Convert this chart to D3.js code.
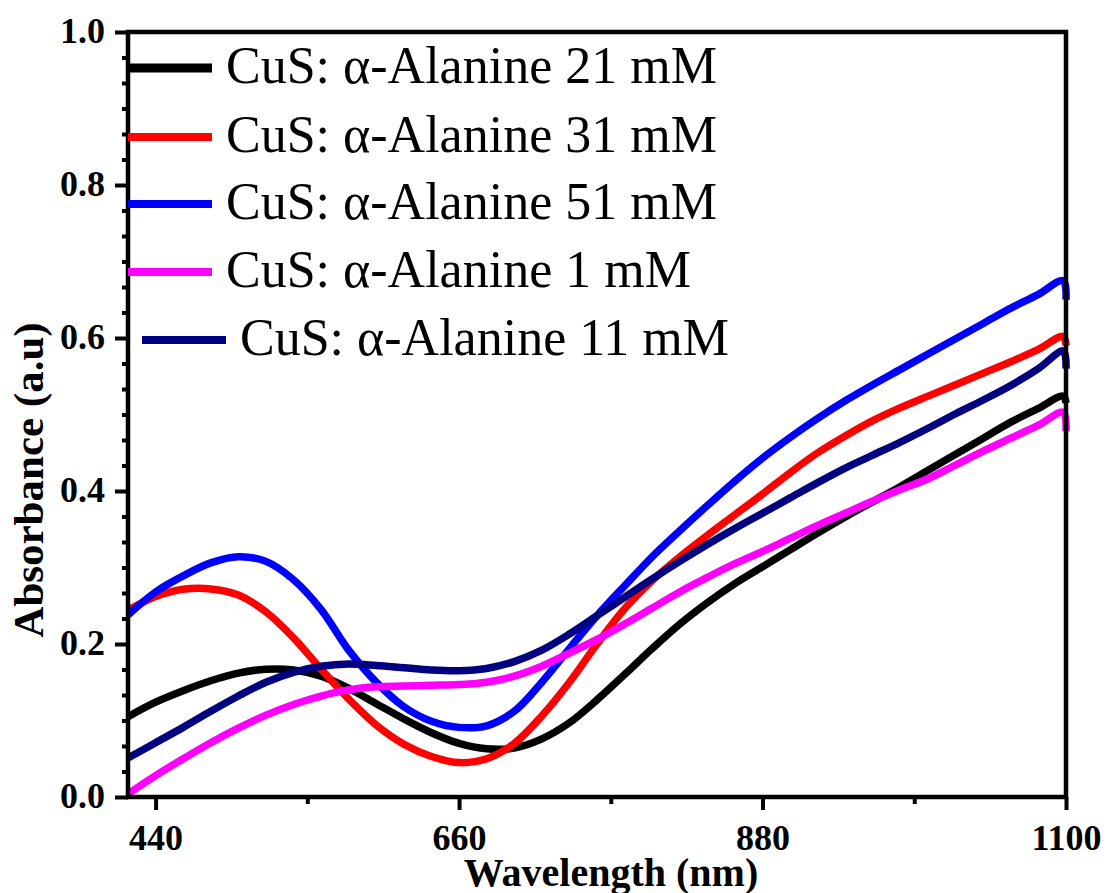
<!DOCTYPE html>
<html>
<head>
<meta charset="utf-8">
<script src="https://cdn.jsdelivr.net/npm/d3@7"></script>
<style>
  body { margin: 0; background: #fff; }
  svg { display: block; }
</style>
</head>
<body>
<svg id="chart" width="1108" height="893"></svg>
<script>
// UV-Vis-NIR absorbance of CuS prepared with different α-Alanine concentrations
const wavelength = [420,440,460,480,500,520,540,560,580,600,620,640,660,680,700,720,740,760,780,800,
                    820,840,860,880,900,920,940,960,980,1000,1020,1040,1060,1080,1098,1100];

const ala21 = [0.105,0.124,0.139,0.152,0.162,0.167,0.166,0.158,0.142,0.122,0.102,0.084,0.070,0.063,0.064,0.076,0.097,0.127,0.160,0.194,
               0.226,0.254,0.279,0.301,0.323,0.345,0.366,0.386,0.406,0.427,0.448,0.469,0.490,0.508,0.524,0.515];
const ala31 = [0.244,0.262,0.2715,0.272,0.264,0.242,0.208,0.167,0.128,0.094,0.069,0.053,0.045,0.050,0.070,0.106,0.150,0.200,0.246,0.283,
               0.314,0.342,0.369,0.396,0.424,0.450,0.472,0.492,0.509,0.524,0.539,0.554,0.569,0.585,0.602,0.590];
const ala51 = [0.238,0.268,0.289,0.306,0.314,0.308,0.284,0.245,0.192,0.150,0.118,0.099,0.091,0.093,0.112,0.150,0.194,0.237,0.276,0.314,
               0.348,0.381,0.413,0.443,0.470,0.495,0.518,0.539,0.559,0.579,0.599,0.619,0.639,0.657,0.675,0.650];
const ala1  = [0.004,0.028,0.050,0.071,0.090,0.107,0.121,0.132,0.140,0.144,0.145,0.146,0.147,0.150,0.158,0.171,0.188,0.206,0.226,0.247,
               0.268,0.287,0.305,0.321,0.338,0.355,0.371,0.387,0.402,0.416,0.434,0.452,0.469,0.486,0.503,0.478];
const ala11 = [0.051,0.071,0.091,0.112,0.132,0.150,0.163,0.171,0.174,0.172,0.169,0.166,0.165,0.168,0.177,0.192,0.213,0.237,0.261,0.285,
               0.308,0.330,0.351,0.371,0.391,0.411,0.430,0.447,0.464,0.482,0.501,0.519,0.538,0.560,0.583,0.560];

const seriesNames  = ["CuS: α-Alanine 21 mM","CuS: α-Alanine 31 mM","CuS: α-Alanine 51 mM","CuS: α-Alanine 1 mM","CuS: α-Alanine 11 mM"];
const seriesValues = [ala21, ala31, ala51, ala1, ala11];
const seriesColors = ["#000000","#ff0000","#0000ff","#ff00ff","#000080"];

const xMajorTicks = [440,660,880,1100];
const xMinorTicks = [550,770,990];
const yMajorTicks = [0.0,0.2,0.4,0.6,0.8,1.0];

const svg = d3.select("#chart");
const plot = {left: 128, right: 1066, top: 32, bottom: 797};

const x = d3.scaleLinear().domain([420, 1100]).range([plot.left, plot.right]);
const y = d3.scaleLinear().domain([0, 1]).range([plot.bottom, plot.top]);

const serif = "'Liberation Serif','Times New Roman',Times,serif";

// spectra
const line = d3.line()
  .x(d => x(d[0]))
  .y(d => y(d[1]))
  .curve(d3.curveCatmullRom.alpha(0.5));

seriesValues.forEach((vals, i) => {
  svg.append("path")
    .datum(wavelength.map((w, j) => [w, vals[j]]))
    .attr("d", line)
    .attr("fill", "none")
    .attr("stroke", seriesColors[i])
    .attr("stroke-width", 7.5)
    .attr("stroke-linejoin", "round");
});

// frame
svg.append("rect")
  .attr("x", plot.left).attr("y", plot.top)
  .attr("width", plot.right - plot.left).attr("height", plot.bottom - plot.top)
  .attr("fill", "none").attr("stroke", "#000").attr("stroke-width", 4.5);

// x axis: labelled major ticks plus unlabelled minor ticks
const gx = svg.append("g").attr("transform", `translate(0,${plot.bottom})`);
gx.call(d3.axisBottom(x).tickValues(xMajorTicks).tickSize(13).tickFormat(d3.format("d")));
const gxm = svg.append("g").attr("transform", `translate(0,${plot.bottom})`);
gxm.call(d3.axisBottom(x).tickValues(xMinorTicks).tickSize(7).tickFormat(""));

// y axis: five minor ticks between each pair of majors
const yMinor = d3.range(0, 31).filter(k => k % 6 !== 0).map(k => k / 30);
const gy = svg.append("g").attr("transform", `translate(${plot.left},0)`);
gy.call(d3.axisLeft(y).tickValues(yMajorTicks).tickSize(13).tickFormat(d3.format(".1f")));
const gym = svg.append("g").attr("transform", `translate(${plot.left},0)`);
gym.call(d3.axisLeft(y).tickValues(yMinor).tickSize(6).tickFormat(""));

[gx, gxm, gy, gym].forEach(g => {
  g.select(".domain").remove();
  g.selectAll(".tick line").attr("stroke", "#000").attr("stroke-width", 4);
  g.selectAll(".tick text")
    .attr("fill", "#000")
    .style("font-family", serif)
    .style("font-weight", "bold")
    .style("font-size", "36px");
});
gx.selectAll(".tick text").attr("y", 53).attr("dy", 0);
gy.selectAll(".tick text").attr("x", -23).attr("dy", "0.28em");

// axis titles
svg.append("text")
  .attr("x", 611).attr("y", 886)
  .attr("text-anchor", "middle")
  .style("font-family", serif).style("font-weight", "bold").style("font-size", "40px")
  .text("Wavelength (nm)");

svg.append("text")
  .attr("transform", "translate(43,480) rotate(-90)")
  .attr("text-anchor", "middle")
  .style("font-family", serif).style("font-weight", "bold").style("font-size", "43px")
  .text("Absorbance (a.u)");

// legend
const legendRowY = [68, 137, 204, 272, 340];
const legendShift = [0, 0, 0, 0, 14];
seriesNames.forEach((name, i) => {
  const g = svg.append("g").attr("transform", `translate(${plot.left + legendShift[i]},${legendRowY[i]})`);
  g.append("line")
    .attr("x1", 0).attr("x2", 84).attr("y1", 0).attr("y2", 0)
    .attr("stroke", seriesColors[i])
    .attr("stroke-width", i === 0 ? 9 : 8);
  g.append("text")
    .attr("x", 98).attr("y", 15)
    .style("font-family", serif).style("font-size", "52px")
    .text(name);
});
</script>
</body>
</html>
